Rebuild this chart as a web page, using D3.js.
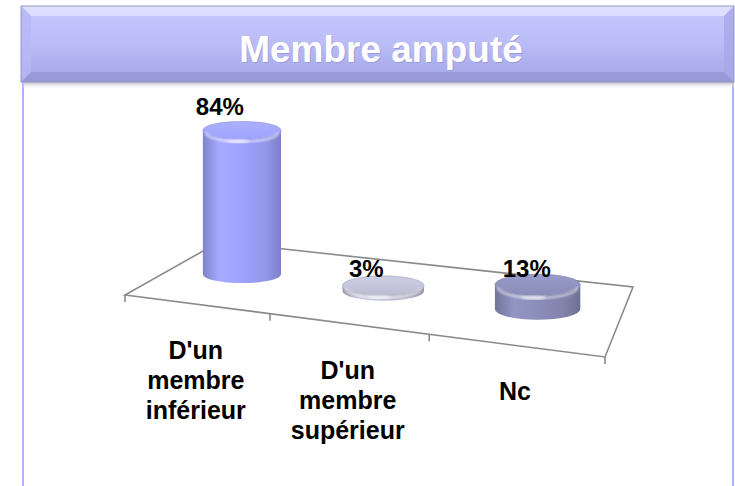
<!DOCTYPE html>
<html>
<head>
<meta charset="utf-8">
<script src="https://cdn.jsdelivr.net/npm/d3@7"></script>
<style>
  body { margin: 0; background: #fff; }
  text { font-family: "Liberation Sans", Arial, Helvetica, sans-serif; font-weight: bold; }
</style>
</head>
<body>
<script>
  var title = 'Membre amputé';
  var categories = ["D'un membre inférieur", "D'un membre supérieur", 'Nc'];
  var values = [84, 3, 13];
  var valueLabels = ['84%', '3%', '13%'];
  var baseColors = ['#989bf2', '#b5b5ca', '#8688b2'];

  var WIDTH = 735, HEIGHT = 486;
  var svg = d3.select('body').append('svg')
    .attr('width', WIDTH)
    .attr('height', HEIGHT);
  var defs = svg.append('defs');

  // ---- banner + panel
  var bx0 = 21, bx1 = 734, by0 = 6, by1 = 82, bev = 10;

  svg.append('line').attr('x1', 23).attr('x2', 23).attr('y1', by1).attr('y2', HEIGHT)
    .attr('stroke', '#aeb0ff').attr('stroke-width', 2);
  svg.append('line').attr('x1', 733).attr('x2', 733).attr('y1', by1).attr('y2', HEIGHT)
    .attr('stroke', '#aeb0ff').attr('stroke-width', 2);

  var shadow = defs.append('linearGradient').attr('id', 'shadow')
    .attr('x1', '0%').attr('y1', '0%').attr('x2', '0%').attr('y2', '100%');
  shadow.append('stop').attr('offset', '0%').attr('stop-color', '#b8b8c4');
  shadow.append('stop').attr('offset', '100%').attr('stop-color', '#ffffff').attr('stop-opacity', 0);
  svg.append('rect').attr('x', bx0 + 2).attr('y', by1).attr('width', bx1 - bx0 - 2).attr('height', 7)
    .attr('fill', 'url(#shadow)');

  var bannerGrad = defs.append('linearGradient').attr('id', 'banner')
    .attr('x1', '0%').attr('y1', '0%').attr('x2', '0%').attr('y2', '100%');
  bannerGrad.append('stop').attr('offset', '0%').attr('stop-color', '#c6c7fd');
  bannerGrad.append('stop').attr('offset', '45%').attr('stop-color', '#bcbef8');
  bannerGrad.append('stop').attr('offset', '100%').attr('stop-color', '#a3a5e6');

  svg.append('rect').attr('x', bx0).attr('y', by0).attr('width', bx1 - bx0).attr('height', by1 - by0)
    .attr('fill', 'url(#banner)');

  var bevels = [
    { pts: [[bx0, by0], [bx1, by0], [bx1 - bev, by0 + bev], [bx0 + bev, by0 + bev]], fill: '#e4e4ff' },
    { pts: [[bx0, by0], [bx0 + bev, by0 + bev], [bx0 + bev, by1 - bev], [bx0, by1]], fill: '#b6b8f6' },
    { pts: [[bx1, by0], [bx1, by1], [bx1 - bev, by1 - bev], [bx1 - bev, by0 + bev]], fill: '#a6a8e8' },
    { pts: [[bx0, by1], [bx0 + bev, by1 - bev], [bx1 - bev, by1 - bev], [bx1, by1]], fill: '#9496d2' }
  ];
  svg.selectAll('.bevel').data(bevels).enter().append('polygon')
    .attr('class', 'bevel')
    .attr('points', function(d) { return d.pts.join(' '); })
    .attr('fill', function(d) { return d.fill; })
    .attr('opacity', 0.8);
  svg.append('rect').attr('x', bx0).attr('y', by0).attr('width', bx1 - bx0).attr('height', by1 - by0)
    .attr('fill', 'none').attr('stroke', '#9697c4').attr('stroke-width', 1);

  svg.append('text').attr('x', 382).attr('y', 63).attr('text-anchor', 'middle')
    .attr('font-size', 37).attr('fill', '#8a8cc8').attr('opacity', 0.6).text(title);
  svg.append('text').attr('x', 381).attr('y', 62).attr('text-anchor', 'middle')
    .attr('font-size', 37).attr('fill', '#ffffff').text(title);

  // ---- perspective floor (unit square -> screen quad)
  var FL = [125, 295], FR = [605, 357], BR = [633, 287], BL = [219, 242];

  function homography(p0, p1, p2, p3) {
    var dx1 = p1[0] - p2[0], dy1 = p1[1] - p2[1];
    var dx2 = p3[0] - p2[0], dy2 = p3[1] - p2[1];
    var dx3 = p0[0] - p1[0] + p2[0] - p3[0], dy3 = p0[1] - p1[1] + p2[1] - p3[1];
    var den = dx1 * dy2 - dy1 * dx2;
    var g = (dx3 * dy2 - dy3 * dx2) / den;
    var h = (dx1 * dy3 - dy1 * dx3) / den;
    var a = p1[0] - p0[0] + g * p1[0], b = p3[0] - p0[0] + h * p3[0], c = p0[0];
    var d = p1[1] - p0[1] + g * p1[1], e = p3[1] - p0[1] + h * p3[1], f = p0[1];
    return function(u, v) {
      var w = g * u + h * v + 1;
      return { x: (a * u + b * v + c) / w, y: (d * u + e * v + f) / w, w: w };
    };
  }
  var proj = homography(FL, FR, BR, BL);

  var x = d3.scaleBand().domain(categories).range([0, 1]);
  var hScale = d3.scaleLinear().domain([0, 100]).range([0, 182]);
  var R = 41.5;

  var floor = [proj(0, 0), proj(1, 0), proj(1, 1), proj(0, 1)];
  svg.append('path')
    .attr('d', d3.line().x(function(p) { return p.x; }).y(function(p) { return p.y; })(floor) + 'Z')
    .attr('fill', 'none')
    .attr('stroke', '#8a8a8a')
    .attr('stroke-width', 1.6);

  var tickU = d3.range(categories.length + 1).map(function(i) { return i * x.step(); });
  svg.selectAll('.tick').data(tickU).enter().append('line')
    .attr('class', 'tick')
    .attr('x1', function(u) { return proj(u, 0).x; })
    .attr('x2', function(u) { return proj(u, 0).x; })
    .attr('y1', function(u) { return proj(u, 0).y; })
    .attr('y2', function(u) { return proj(u, 0).y + 7; })
    .attr('stroke', '#8a8a8a')
    .attr('stroke-width', 1.6);

  // ---- cylinders
  var blur = defs.append('filter').attr('id', 'soft');
  blur.append('feGaussianBlur').attr('stdDeviation', 1.2);

  var cyl = categories.map(function(c, i) {
    var u = x(c) + x.bandwidth() / 2;
    var b = proj(u, 0.5);
    var rx = R / b.w;
    var ry = (proj(u, 0).y - proj(u, 1).y) * 0.16;
    var top = b.y - hScale(values[i]) / b.w;
    return { i: i, u: u, cx: b.x, bot: b.y, top: top, rx: rx, ry: ry, color: d3.color(baseColors[i]) };
  });

  cyl.forEach(function(d) {
    var col = d.color;
    var bg = defs.append('linearGradient').attr('id', 'body' + d.i)
      .attr('x1', '0%').attr('y1', '0%').attr('x2', '100%').attr('y2', '0%');
    bg.append('stop').attr('offset', '0%').attr('stop-color', col.darker(0.45));
    bg.append('stop').attr('offset', '22%').attr('stop-color', col.brighter(0.25));
    bg.append('stop').attr('offset', '45%').attr('stop-color', col.brighter(0.15));
    bg.append('stop').attr('offset', '80%').attr('stop-color', col.darker(0.1));
    bg.append('stop').attr('offset', '100%').attr('stop-color', col.darker(0.55));

    var tg = defs.append('linearGradient').attr('id', 'top' + d.i)
      .attr('x1', '0%').attr('y1', '0%').attr('x2', '0%').attr('y2', '100%');
    tg.append('stop').attr('offset', '0%').attr('stop-color', col.brighter(0.35));
    tg.append('stop').attr('offset', '100%').attr('stop-color', col.brighter(0.1));
  });

  var cg = svg.selectAll('.cyl').data(cyl).enter().append('g').attr('class', 'cyl');

  cg.append('path')
    .attr('d', function(d) {
      return 'M' + (d.cx - d.rx) + ',' + d.top +
        'L' + (d.cx - d.rx) + ',' + d.bot +
        'A' + d.rx + ',' + d.ry + ' 0 0 0 ' + (d.cx + d.rx) + ',' + d.bot +
        'L' + (d.cx + d.rx) + ',' + d.top +
        'A' + d.rx + ',' + d.ry + ' 0 0 1 ' + (d.cx - d.rx) + ',' + d.top + 'Z';
    })
    .attr('fill', function(d) { return 'url(#body' + d.i + ')'; });

  cg.append('ellipse')
    .attr('cx', function(d) { return d.cx; })
    .attr('cy', function(d) { return d.top; })
    .attr('rx', function(d) { return d.rx; })
    .attr('ry', function(d) { return d.ry; })
    .attr('fill', function(d) { return 'url(#top' + d.i + ')'; })
    .attr('stroke', function(d) { return d.color.darker(0.3); })
    .attr('stroke-width', 0.6);

  // rim highlight at the front of the top face
  cg.append('path')
    .attr('d', function(d) {
      var r = d.rx - 3, y = d.top + 2.5;
      return 'M' + (d.cx + r) + ',' + y + 'A' + r + ',' + d.ry + ' 0 0 1 ' + (d.cx - r) + ',' + y;
    })
    .attr('fill', 'none')
    .attr('stroke', '#ffffff')
    .attr('stroke-opacity', 0.55)
    .attr('stroke-width', 2.5)
    .attr('filter', 'url(#soft)');

  cg.append('ellipse')
    .attr('cx', function(d) { return d.cx - d.rx * 0.1; })
    .attr('cy', function(d) { return d.top + d.ry + 2; })
    .attr('rx', function(d) { return d.rx * 0.3; })
    .attr('ry', 2)
    .attr('fill', '#ffffff')
    .attr('opacity', 0.6)
    .attr('filter', 'url(#soft)');

  // ---- value labels
  svg.selectAll('.val').data(cyl).enter().append('text')
    .attr('class', 'val')
    .attr('x', function(d) { return proj(d.u, 0.25).x; })
    .attr('y', function(d) {
      var p = proj(d.u, 0.25);
      return p.y - hScale(values[d.i]) / p.w - 24;
    })
    .attr('text-anchor', 'middle')
    .attr('font-size', 24)
    .attr('fill', '#000')
    .text(function(d) { return valueLabels[d.i]; });

  // ---- category labels
  var cl = svg.selectAll('.cat').data(categories).enter().append('text')
    .attr('class', 'cat')
    .attr('text-anchor', 'middle')
    .attr('font-size', 25)
    .attr('fill', '#000')
    .attr('transform', function(c) {
      var p = proj(x(c) + x.bandwidth() / 2, 0);
      return 'translate(' + p.x + ',' + (p.y + 55) + ')';
    });
  cl.selectAll('tspan').data(function(c) { return c.split(' '); }).enter().append('tspan')
    .attr('x', 0)
    .attr('dy', function(t, j) { return j === 0 ? 0 : 30; })
    .text(function(t) { return t; });
</script>
</body>
</html>
